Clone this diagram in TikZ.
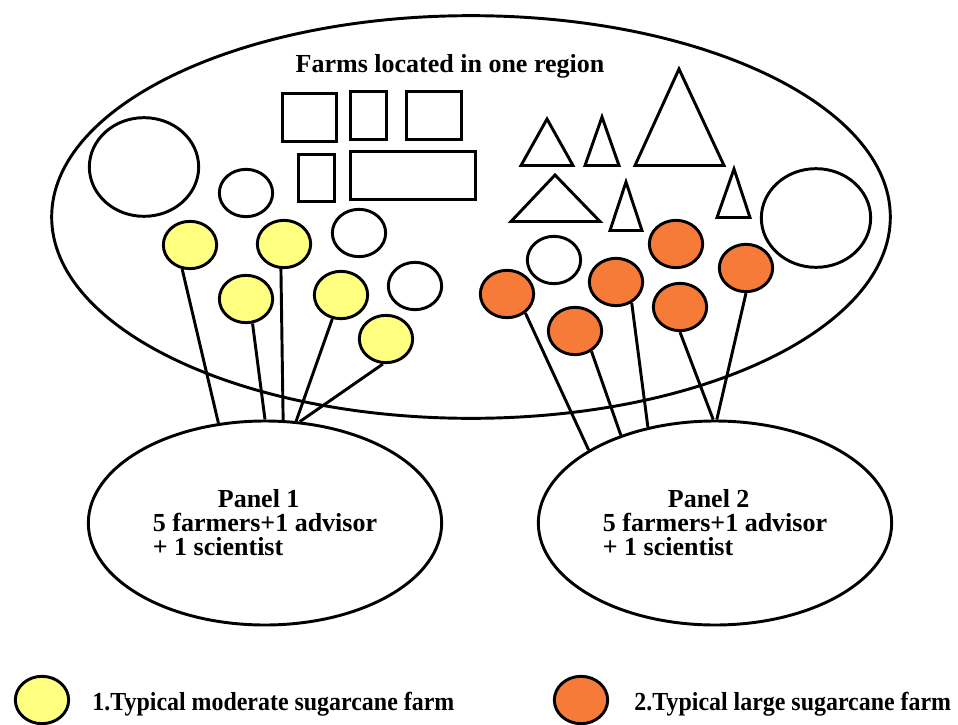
\documentclass[tikz,border=0pt]{standalone}
\usepackage{fontspec}
\setmainfont{Liberation Serif}
\usepackage{graphicx}
\usetikzlibrary{shapes.geometric}
\definecolor{farmyellow}{HTML}{FFFF80}
\definecolor{farmorange}{HTML}{F67B38}

\begin{document}
\begin{tikzpicture}[x=0.75pt, y=-0.75pt, line width=2.2pt,
  farm/.style={ellipse, draw, inner sep=0pt, minimum width=40pt, minimum height=35.5pt},
  bigfarm/.style={ellipse, draw, inner sep=0pt, minimum width=82pt, minimum height=74pt},
  moderate/.style={farm, fill=farmyellow},
  large/.style={farm, fill=farmorange},
  bigtext/.style={inner sep=0pt, font=\bfseries\fontsize{19.5}{18}\selectfont},
  panel/.style={ellipse, draw, bigtext, minimum width=265pt, minimum height=153pt, align=left}]
\useasboundingbox (0,0) rectangle (958,725);

\node[ellipse, draw, minimum width=629pt, minimum height=302pt] (region) at (471,217) {};
\node[bigtext, anchor=base] (title) at (450,72) {Farms located in one region};

\draw (282.5,93.5) rectangle (336.5,141.5);
\draw (350.5,91.5) rectangle (386.5,139.5);
\draw (406.5,91.5) rectangle (461.5,139.5);
\draw (298.5,154.5) rectangle (334.5,201.5);
\draw (350.5,151.5) rectangle (475.5,199.5);

\draw (521,165.5) -- (547,119) -- (573,165.5) -- cycle;
\draw (585,165.5) -- (602,117) -- (619,165.5) -- cycle;
\draw (635,165.5) -- (679,69) -- (724,165.5) -- cycle;
\draw (511,221.5) -- (555,175) -- (600,221.5) -- cycle;
\draw (610,230.5) -- (626,182) -- (642,230.5) -- cycle;
\draw (717,217.5) -- (734,169) -- (750,217.5) -- cycle;

\node[bigfarm] (w1) at (144,167) {};
\node[farm] (w2) at (246,193) {};
\node[farm] (w3) at (359,233) {};
\node[farm] (w4) at (415,286) {};
\node[farm] (w5) at (554,260) {};
\node[bigfarm] (w6) at (816,218) {};

\node[moderate] (y1) at (190,245) {};
\node[moderate] (y2) at (284,244) {};
\node[moderate] (y3) at (246,299) {};
\node[moderate] (y4) at (341,295) {};
\node[moderate] (y5) at (386,339) {};

\node[large] (o1) at (507,294) {};
\node[large] (o2) at (575,331) {};
\node[large] (o3) at (616,282) {};
\node[large] (o4) at (676,244) {};
\node[large] (o5) at (680,307) {};
\node[large] (o6) at (746,268) {};

\node[panel] (p1) at (265,523) {\hspace*{2.5em}Panel 1\\5 farmers+1 advisor\\+ 1 scientist};
\node[panel] (p2) at (715,523) {\hspace*{2.5em}Panel 2\\5 farmers+1 advisor\\+ 1 scientist};

\draw (y1.252) -- (p1.115);
\draw (y3.285) -- (p1.90);
\draw (y2.263) -- (p1.80);
\draw (y4.250) -- (p1.73);
\draw (y5.263) -- (p1.71);

\draw (o1.314) -- (p2.150);
\draw (o2.309) -- (p2.137);
\draw (o3.307) -- (p2.125);
\draw (o5.270) -- (p2.91);
\draw (o6.270) -- (p2.89);

\node[moderate] (k1) at (42,700) {};
\node[bigtext, anchor=base west] (k1text) at (91,710) {\scalebox{0.92}[1]{1.Typical moderate sugarcane farm}};
\node[large] (k2) at (581,700) {};
\node[bigtext, anchor=base west] (k2text) at (633,710) {\scalebox{0.92}[1]{2.Typical large sugarcane farm}};

\end{tikzpicture}
\end{document}
